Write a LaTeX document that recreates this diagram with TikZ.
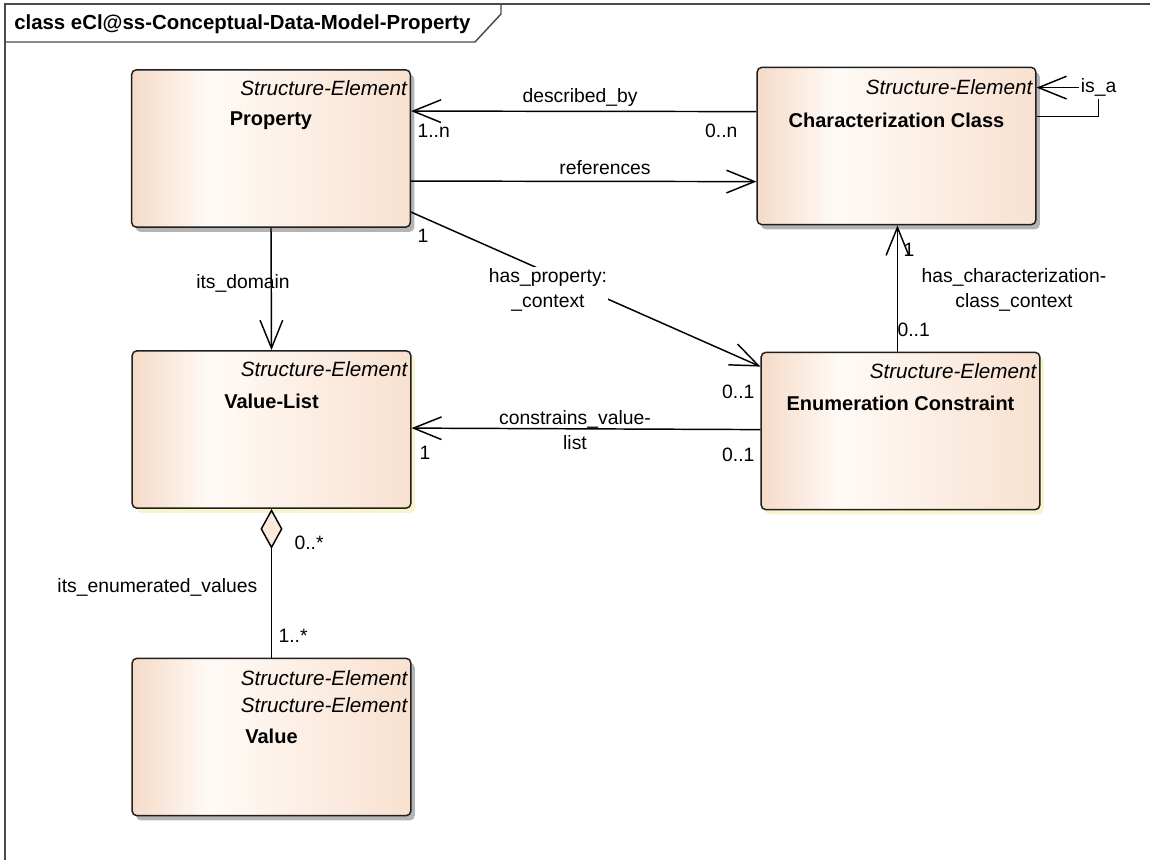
\documentclass[tikz,border=0pt]{standalone}
\usepackage{fontspec}
\setmainfont{Liberation Sans}
\usetikzlibrary{arrows.meta,shadows,calc}

\definecolor{boxl}{HTML}{F5DBC8}
\definecolor{boxm}{HTML}{FFFAF6}
\definecolor{boxr}{HTML}{F8E1D0}
\definecolor{shgray}{HTML}{B4B4B4}
\definecolor{shyel}{HTML}{F8F4CC}
\definecolor{framec}{HTML}{4A4A4A}
\definecolor{diamc}{HTML}{FBEADC}

% class body: beige at the edges, nearly white a third of the way in
\pgfdeclarehorizontalshading{classfill}{100bp}{color(0bp)=(boxl); color(25bp)=(boxl);
  color(39bp)=(boxm); color(75bp)=(boxr); color(100bp)=(boxr)}

\tikzset{
  classbox/.style={draw=black!88, line width=1.1pt, rounded corners=3.5pt,
    shading=classfill, inner sep=0pt, minimum width=209pt, minimum height=118pt},
  grayshadow/.style={drop shadow={shadow xshift=3pt, shadow yshift=-3.5pt,
    fill=shgray, opacity=1}},
  yelshadow/.style={drop shadow={shadow xshift=3pt, shadow yshift=-3.5pt,
    fill=shyel, opacity=1}},
  stereo/.style={font=\fontsize{15.5}{17}\selectfont\itshape, anchor=east, inner sep=0pt},
  cname/.style={font=\fontsize{15}{17}\selectfont\bfseries, inner sep=0pt},
  lbl/.style={font=\fontsize{14.5}{18.5}\selectfont, inner sep=1pt, align=center},
  assoc/.style={line width=1.1pt, -{Straight Barb[length=21pt, width=17pt]}},
  aggr/.style={line width=1.1pt, -{Diamond[length=30pt, width=16.5pt, fill=diamc]}},
}

\begin{document}
\begin{tikzpicture}[x=0.75pt, y=-0.75pt]
\useasboundingbox (0,0) rectangle (1150,860);

% diagram frame and title tab
\draw[framec, line width=1.3pt] (5,860) -- (5,4) -- (1150,4);
\draw[framec, line width=1.1pt] (5,42) -- (475,42) -- (501,14) -- (501,4);
\node[font=\fontsize{15.3}{17}\selectfont\bfseries, anchor=west, inner sep=0pt] (title)
  at (14,24) {class eCl@ss-Conceptual-Data-Model-Property};

% classes
\node[classbox, grayshadow] (prop) at (271,148.5) {};
\node[classbox, grayshadow] (cc) at (896.5,146) {};
\node[classbox, yelshadow] (vl) at (271.5,429.5) {};
\node[classbox, yelshadow] (ec) at (900.5,431) {};
\node[classbox, grayshadow] (val) at (271.5,737) {};

\node[stereo] (prop-st) at ($(prop.north east)+(-4,19)$) {Structure-Element};
\node[cname] (prop-nm) at ($(prop.north)+(0,52)$) {Property};
\node[stereo] (cc-st) at ($(cc.north east)+(-4,21)$) {Structure-Element};
\node[cname] (cc-nm) at ($(cc.north)+(0,54)$) {Characterization Class};
\node[stereo] (vl-st) at ($(vl.north east)+(-4,19)$) {Structure-Element};
\node[cname] (vl-nm) at ($(vl.north)+(0,51)$) {Value-List};
\node[stereo] (ec-st) at ($(ec.north east)+(-4,20)$) {Structure-Element};
\node[cname] (ec-nm) at ($(ec.north)+(0,52)$) {Enumeration Constraint};
\node[stereo] (val-st1) at ($(val.north east)+(-4,21)$) {Structure-Element};
\node[stereo] (val-st2) at ($(val.north east)+(-4,48)$) {Structure-Element};
\node[cname] (val-nm) at ($(val.north)+(0,79)$) {Value};

% associations
\draw[assoc] ($(cc.north west)+(0,45)$) -- ($(prop.north east)+(0,42)$);
\draw[assoc] ($(prop.north east)+(0,112)$) -- ($(cc.north west)+(0,115)$);
\draw[assoc] ($(prop.north east)+(0,143)$) -- ($(ec.north west)+(0,15)$);
\draw[assoc] (prop.south) -- (vl.north);
\draw[assoc] ($(ec.north west)+(137,0)$) -- ($(cc.south west)+(141,0)$);
\draw[assoc] ($(ec.north west)+(0,78)$) -- ($(vl.north east)+(0,78)$);
\draw[aggr] (val.north) -- (vl.south);
\draw[assoc] ($(cc.north east)+(0,50)$) -- ++(62,0)
  |- node[lbl, fill=white, pos=0.5, inner sep=1.5pt] (isa) {is\_a} ($(cc.north east)+(0,21)$);

% association labels and multiplicities
\node[lbl] (l-desc) at (580,98) {described\_by};
\node[lbl, anchor=west] (m-desc-p) at (416,131) {1..n};
\node[lbl, anchor=east] (m-desc-c) at (739,131) {0..n};
\node[lbl] (l-ref) at (605,168) {references};
\node[lbl, anchor=west] (m-hp-p) at (416,236) {1};
\node[lbl] (l-dom) at (243,283) {its\_domain};
\node[lbl, fill=white] (l-hp) at (548,290) {has\_property:\\\_context};
\node[lbl, anchor=west] (m-hc-c) at (902,250) {1};
\node[lbl] (l-hc) at (1014,290) {has\_characterization-\\class\_context};
\node[lbl, anchor=west] (m-hc-e) at (896,330) {0..1};
\node[lbl, anchor=east] (m-hp-e) at (756,392) {0..1};
\node[lbl] (l-cv) at (575,430) {constrains\_value-\\list};
\node[lbl, anchor=west] (m-cv-v) at (418,453) {1};
\node[lbl, anchor=east] (m-cv-e) at (756,455) {0..1};
\node[lbl, anchor=west] (m-ag-l) at (293,543) {0..*};
\node[lbl, anchor=east] (l-ag) at (259,587) {its\_enumerated\_values};
\node[lbl, anchor=west] (m-ag-v) at (277,636) {1..*};
\end{tikzpicture}
\end{document}
